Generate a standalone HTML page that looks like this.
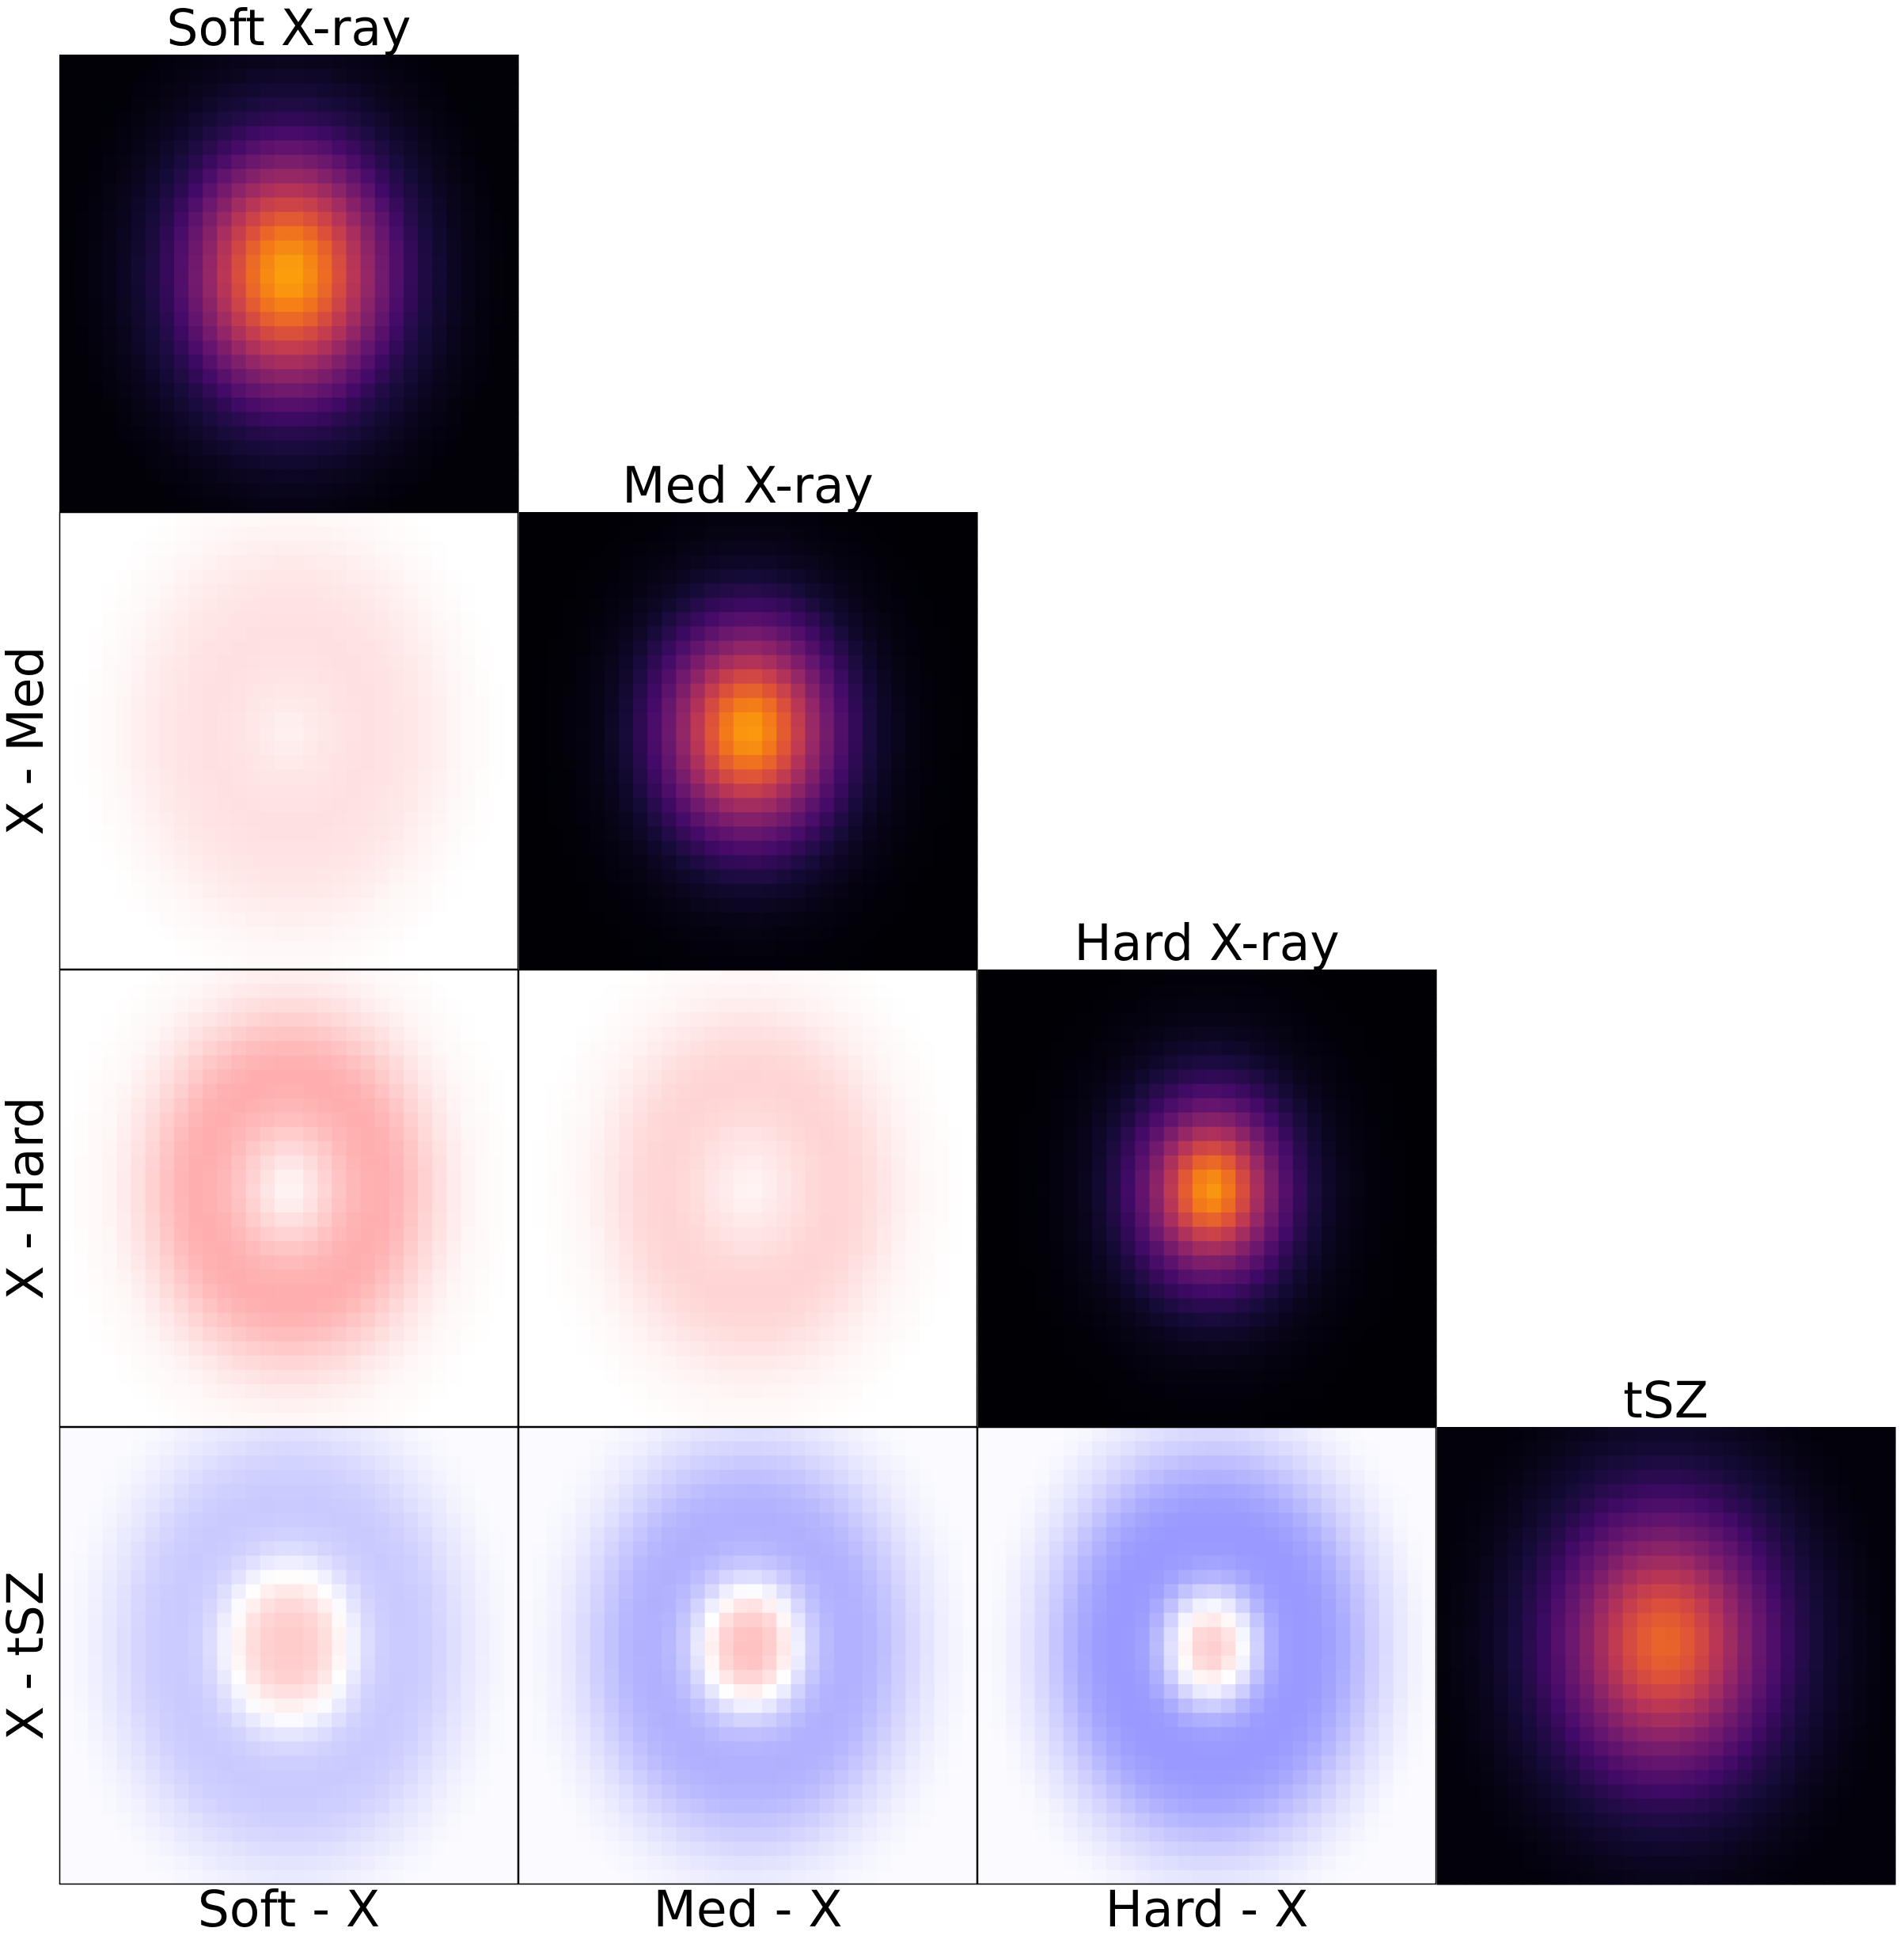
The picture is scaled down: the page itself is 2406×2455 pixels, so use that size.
<!DOCTYPE html>
<html><head><meta charset="utf-8"><style>
html,body{margin:0;padding:0;background:#fff;}
svg{display:block;font-family:"DejaVu Sans","Liberation Sans",sans-serif;}
</style></head><body>
<svg id="fig" width="2406" height="2455" viewBox="0 0 2406 2455"></svg>
<script>
// ---- data ----
const panelTitles = ["Soft X-ray","Med X-ray","Hard X-ray","tSZ"];
const rowLabels = ["X - Med","X - Hard","X - tSZ"];
const colLabels = ["Soft - X","Med - X","Hard - X"];
const gridN = 32;
// diagonal panels: centres (cell units) and radial profiles (inferno value vs radius)
const diagCx = [16.0, 16.1, 16.3, 15.9];
const diagCy = [15.3, 15.3, 15.4, 15.1];
const diagSoft = [0.80,0.77,0.71,0.63,0.54,0.45,0.36,0.28,0.20,0.14,0.10,0.07,0.045,0.03,0.018,0.01,0.005];
const diagMed  = [0.79,0.75,0.67,0.57,0.46,0.36,0.27,0.19,0.13,0.08,0.05,0.03,0.018,0.01,0.006,0.003,0.002];
const diagHard = [0.78,0.72,0.61,0.48,0.36,0.26,0.18,0.12,0.075,0.045,0.028,0.017,0.01,0.006,0.003,0.002,0.001];
const diagTSZ  = [0.66,0.64,0.60,0.54,0.47,0.40,0.33,0.27,0.21,0.16,0.12,0.09,0.065,0.045,0.03,0.02,0.012];
// residual panels (bwr value, -1..1, vs radius) — row, col
const resRow = [0,1,1,2,2,2];
const resCol = [0,0,1,0,1,2];
const resMedSoft  = [0.05,0.07,0.09,0.10,0.11,0.12,0.12,0.11,0.10,0.09,0.07,0.05,0.03,0.02,0.01,0.0,0.0];
const resHardSoft = [0.03,0.07,0.13,0.20,0.26,0.30,0.32,0.31,0.27,0.21,0.15,0.10,0.06,0.03,0.02,0.01,0.0];
const resHardMed  = [0.04,0.06,0.09,0.11,0.14,0.16,0.17,0.16,0.14,0.11,0.08,0.05,0.03,0.02,0.01,0.0,0.0];
const resTszSoft  = [0.20,0.20,0.17,0.10,0.0,-0.10,-0.17,-0.20,-0.21,-0.20,-0.18,-0.15,-0.11,-0.08,-0.05,-0.03,-0.02];
const resTszMed   = [0.25,0.23,0.15,0.0,-0.15,-0.25,-0.30,-0.31,-0.30,-0.27,-0.22,-0.17,-0.12,-0.08,-0.05,-0.03,-0.02];
const resTszHard  = [0.20,0.16,0.02,-0.15,-0.30,-0.38,-0.40,-0.40,-0.38,-0.34,-0.28,-0.21,-0.15,-0.10,-0.06,-0.03,-0.02];

// ---- layout ----
const X0 = 75, Y0 = 69, PW = 580, PH = 578;
const ELL = 1.25;
const NS = "http://www.w3.org/2000/svg";
const svg = document.getElementById('fig');
function px(col){return X0 + col*PW;}
function py(row){return Y0 + row*PH;}

const inf = [[0,0,0,4],[0.1,22,11,57],[0.2,66,10,104],[0.3,106,23,110],[0.4,147,38,103],[0.5,188,55,84],[0.6,221,81,58],[0.7,243,120,25],[0.8,252,165,10],[0.9,246,215,70],[1,252,255,164]];
function inferno(v){v=Math.max(0,Math.min(1,v));for(let i=1;i<inf.length;i++){if(v<=inf[i][0]){const a=inf[i-1],b=inf[i],t=(v-a[0])/(b[0]-a[0]);return `rgb(${Math.round(a[1]+t*(b[1]-a[1]))},${Math.round(a[2]+t*(b[2]-a[2]))},${Math.round(a[3]+t*(b[3]-a[3]))})`;}}return 'rgb(252,255,164)';}
function bwr(v){v=Math.max(-1,Math.min(1,v));if(v<0){const c=Math.round(255*(1+v));return `rgb(${c},${c},255)`;}const c=Math.round(255*(1-v));return `rgb(255,${c},${c})`;}
function prof(arr,r){const i=Math.floor(r);if(i>=arr.length-1)return arr[arr.length-1];const t=r-i;return arr[i]*(1-t)+arr[i+1]*t;}

function drawPanel(row,col,arr,cx,cy,cmap,name,border){
  const g=document.createElementNS(NS,'g');
  
  
  const cw=PW/gridN, ch=PH/gridN;
  for(let j=0;j<gridN;j++)for(let i=0;i<gridN;i++){
    const dx=i+0.5-cx, dy=(j+0.5-cy)/ELL;
    const v=prof(arr,Math.sqrt(dx*dx+dy*dy));
    const r=document.createElementNS(NS,'rect');
    r.setAttribute('x',(px(col)+i*cw).toFixed(2));r.setAttribute('y',(py(row)+j*ch).toFixed(2));
    r.setAttribute('width',(cw+0.6).toFixed(2));r.setAttribute('height',(ch+0.6).toFixed(2));
    r.setAttribute('fill',cmap(v));
    g.appendChild(r);
  }
  if(border){const b=document.createElementNS(NS,'rect');b.setAttribute('x',px(col)+0.5);b.setAttribute('y',py(row)+0.5);b.setAttribute('width',PW-1);b.setAttribute('height',PH-1);b.setAttribute('fill','none');b.setAttribute('stroke','#000');b.setAttribute('stroke-width','1.5');g.appendChild(b);}
  svg.appendChild(g);
}
const diags=[diagSoft,diagMed,diagHard,diagTSZ];
const diagNames=['soft-xray-map','med-xray-map','hard-xray-map','tsz-map'];
for(let k=0;k<4;k++) drawPanel(k,k,diags[k],diagCx[k],diagCy[k],inferno,diagNames[k],false);
const resArrs=[resMedSoft,resHardSoft,resHardMed,resTszSoft,resTszMed,resTszHard];
const resNames=['residual-soft-med','residual-soft-hard','residual-med-hard','residual-soft-tsz','residual-med-tsz','residual-hard-tsz'];
for(let k=0;k<resArrs.length;k++){const c=resCol[k];drawPanel(resRow[k]+1,c,resArrs[k],diagCx[c],diagCy[c],bwr,resNames[k],true);}

function txt(x,y,s,name,rot){const t=document.createElementNS(NS,'text');t.setAttribute('x',x);t.setAttribute('y',y);t.setAttribute('font-size','63');t.setAttribute('text-anchor','middle');t.setAttribute('fill','#000');if(rot)t.setAttribute('transform',`rotate(-90 ${x} ${y})`);t.textContent=s;

svg.appendChild(t);}
for(let k=0;k<4;k++) txt(px(k)+PW/2, py(k)-12, panelTitles[k], 'title-'+diagNames[k]);
for(let k=0;k<3;k++) txt(54, py(k+1)+PH/2, rowLabels[k], 'row-label-'+(k+1), true);
for(let k=0;k<3;k++) txt(px(k)+PW/2, 2434, colLabels[k], 'col-label-'+(k+1));
</script>
</body></html>
